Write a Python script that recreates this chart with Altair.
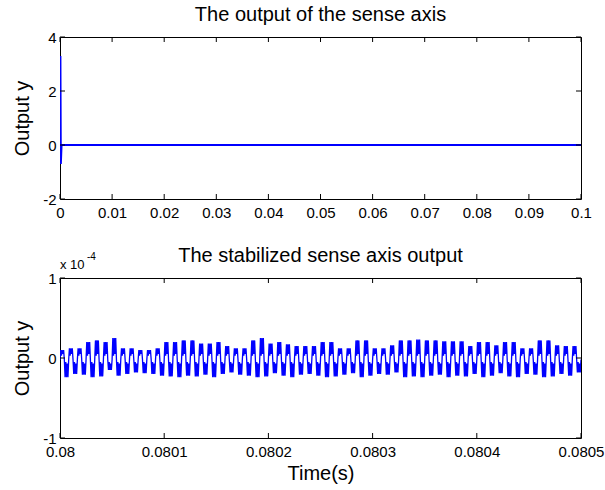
import altair as alt
import pandas as pd
import numpy as np

FONT = "Liberation Sans"
BLUE = "#0000ff"

# ---------------- top panel data ----------------
top_title = "The output of the sense axis"
top_t = [0.0, 0.00008, 0.00016, 0.0003, 0.1]
top_y = [0.0, 3.3, -0.7, 0.0, 0.0]
top_xticks = [0, 0.01, 0.02, 0.03, 0.04, 0.05, 0.06, 0.07, 0.08, 0.09, 0.1]
top_yticks = [-2, 0, 2, 4]

# ---------------- bottom panel data (units of 1e-4) ----------------
bot_title = "The stabilized sense axis output"
peaks = [0.10, 0.12, 0.12, 0.20, 0.22, 0.20, 0.25, 0.12, 0.12, 0.10,
         0.10, 0.12, 0.20, 0.20, 0.22, 0.22, 0.18, 0.18, 0.20, 0.15,
         0.12, 0.12, 0.22, 0.25, 0.18, 0.20, 0.17, 0.15, 0.15, 0.15,
         0.20, 0.20, 0.12, 0.12, 0.22, 0.22, 0.12, 0.12, 0.16, 0.22,
         0.22, 0.23, 0.22, 0.22, 0.21, 0.21, 0.21, 0.15, 0.20, 0.20,
         0.16, 0.20, 0.20, 0.12, 0.12, 0.22, 0.22, 0.16, 0.15, 0.15]
troughs = [-0.24, -0.20, -0.21, -0.24, -0.23, -0.15, -0.22, -0.20, -0.18, -0.19,
           -0.20, -0.22, -0.23, -0.24, -0.22, -0.23, -0.21, -0.24, -0.20, -0.18,
           -0.21, -0.22, -0.24, -0.23, -0.19, -0.22, -0.24, -0.21, -0.20, -0.22,
           -0.24, -0.23, -0.21, -0.19, -0.24, -0.22, -0.20, -0.21, -0.18, -0.24,
           -0.23, -0.24, -0.22, -0.21, -0.24, -0.22, -0.23, -0.20, -0.24, -0.22,
           -0.19, -0.23, -0.24, -0.20, -0.21, -0.24, -0.23, -0.20, -0.22, -0.18]
# levels of the thin connecting segments and of the inner edges of the dense bars
mid_levels = [-0.02, 0.03, 0.05, -0.02, -0.05, -0.07]
bot_xticks = [0.08, 0.0801, 0.0802, 0.0803, 0.0804, 0.0805]
bot_yticks = [-1, 0, 1]

vals = []
m = mid_levels
for p, tr in zip(peaks, troughs):
    vals += [m[0], p, m[1], p, m[2], p, m[3], tr, m[4], tr, m[5], tr]
vals.append(m[0])
bot_t = np.linspace(0.08, 0.0805, len(vals))

top_df = pd.DataFrame({"t": top_t, "y": top_y})
bot_df = pd.DataFrame({"t": bot_t, "y": vals})

W = 521
TICK = 5
LABEL = "'' + datum.value"


def panel(df, xdom, ydom, xticks, yticks, title, H, stroke, xtitle=None, exponent=False):
    xs = alt.Scale(domain=xdom, nice=False, zero=False)
    ys = alt.Scale(domain=ydom, nice=False, zero=False)
    xkw = dict(values=xticks, labelExpr=LABEL, labelFlush=False, labelOverlap=False,
               labelBound=False, ticks=False, domain=False, grid=False, labelPadding=6)
    if xtitle:
        xkw["title"] = xtitle
        xkw["titlePadding"] = 4
    else:
        xkw["title"] = None
    x_axis = alt.Axis(**xkw)
    y_axis = alt.Axis(values=yticks, labelExpr=LABEL, labelFlush=False, labelOverlap=False,
                      labelBound=False, ticks=False, domain=False, grid=False,
                      labelPadding=4, title="Output y", titlePadding=10)
    line = alt.Chart(df).mark_line(color=BLUE, strokeWidth=stroke, clip=True).encode(
        x=alt.X("t:Q", scale=xs, axis=x_axis),
        y=alt.Y("y:Q", scale=ys, axis=y_axis),
        order=alt.Order("t:Q"),
    )
    xt = pd.DataFrame({"v": xticks})
    yt = pd.DataFrame({"v": yticks})
    tb = alt.Chart(xt).mark_rule(color="black", strokeWidth=1).encode(
        x=alt.X("v:Q", scale=xs), y=alt.value(H), y2=alt.value(H - TICK))
    tt = alt.Chart(xt).mark_rule(color="black", strokeWidth=1).encode(
        x=alt.X("v:Q", scale=xs), y=alt.value(0), y2=alt.value(TICK))
    tl = alt.Chart(yt).mark_rule(color="black", strokeWidth=1).encode(
        y=alt.Y("v:Q", scale=ys), x=alt.value(0), x2=alt.value(TICK))
    tr = alt.Chart(yt).mark_rule(color="black", strokeWidth=1).encode(
        y=alt.Y("v:Q", scale=ys), x=alt.value(W), x2=alt.value(W - TICK))
    ttl = alt.Chart(pd.DataFrame({"s": [title]})).mark_text(
        font=FONT, fontSize=20, color="black", align="center", baseline="middle").encode(
        text="s:N", x=alt.value(W / 2), y=alt.value(-22))
    layers = [line, tb, tt, tl, tr, ttl]
    if exponent:
        e1 = alt.Chart(pd.DataFrame({"s": ["x 10"]})).mark_text(
            font=FONT, fontSize=13, color="black", align="left", baseline="middle").encode(
            text="s:N", x=alt.value(0), y=alt.value(-13))
        e2 = alt.Chart(pd.DataFrame({"s": ["-4"]})).mark_text(
            font=FONT, fontSize=10, color="black", align="left", baseline="middle").encode(
            text="s:N", x=alt.value(27), y=alt.value(-21))
        layers += [e1, e2]
    return alt.layer(*layers).properties(width=W, height=H)


top = panel(top_df, [0, 0.1], [-2, 4], top_xticks, top_yticks, top_title, 162, 2)
bottom = panel(bot_df, [0.08, 0.0805], [-1, 1], bot_xticks, bot_yticks, bot_title, 160, 1.3,
               xtitle="Time(s)", exponent=True)

chart = alt.vconcat(top, bottom, spacing=24).properties(
    padding={"left": 12, "top": 4, "right": 0, "bottom": 5}
).configure(font=FONT).configure_view(
    stroke="black", strokeWidth=1
).configure_axis(
    labelFont=FONT, labelFontSize=15, labelColor="black",
    titleFont=FONT, titleFontSize=20, titleFontWeight="normal", titleColor="black"
)

chart.save("out.html", embed_options={"renderer": "svg", "actions": False})
